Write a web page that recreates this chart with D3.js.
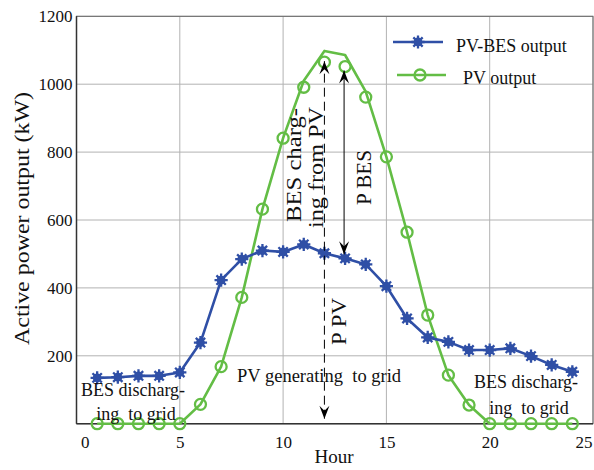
<!DOCTYPE html>
<html>
<head>
<meta charset="utf-8">
<script src="https://cdn.jsdelivr.net/npm/d3@7"></script>
<style>
  body { margin: 0; background: #fff; }
  text { font-family: "Liberation Serif", "DejaVu Serif", serif; fill: #111; }
</style>
</head>
<body>
<div id="chart"></div>
<script>
// hours of the day
var hours = [1,2,3,4,5,6,7,8,9,10,11,12,13,14,15,16,17,18,19,20,21,22,23,24];
// PV-BES output (kW)
var pvBes = [135,137,141,141,151,239,423,485,510,506,528,502,487,469,405,310,254,241,217,217,222,199,173,153];
// PV output at the markers (kW)
var pvMarks = [0,0,0,0,0,57,168,372,632,841,991,1065,1052,962,786,564,320,143,55,0,0,0,0,0];
// PV output line (kW), drawn a bit higher than the markers around noon
var pvLine = [0,0,0,0,0,57,168,372,632,841,1010,1098,1086,978,786,564,320,143,55,0,0,0,0,0];

var xTicks = [0,5,10,15,20,25];
var yTicks = [200,400,600,800,1000,1200];

var BLUE = "#2f4fa6";
var GREEN = "#63bd45";

var width = 594, height = 470;

var svg = d3.select("#chart").append("svg")
	.attr("width", width)
	.attr("height", height);

var x = d3.scaleLinear().domain([0, 25]).range([76.5, 593]);
var y = d3.scaleLinear().domain([0, 1200]).range([423.7, 16.3]);

// arrow heads
var defs = svg.append("defs");
defs.append("marker")
	.attr("id", "head")
	.attr("viewBox", "-14 -6 16 12")
	.attr("markerUnits", "userSpaceOnUse")
	.attr("markerWidth", 16)
	.attr("markerHeight", 12)
	.attr("refX", 0)
	.attr("refY", 0)
	.attr("orient", "auto-start-reverse")
	.append("path")
	.attr("d", "M0,0 L-13,-5 L-8,0 L-13,5 Z")
	.attr("fill", "#000");

// grid
svg.append("g")
	.selectAll("line.gx")
	.data(xTicks)
	.enter().append("line")
	.attr("x1", function(d) { return x(d); })
	.attr("x2", function(d) { return x(d); })
	.attr("y1", y(0))
	.attr("y2", y(1200))
	.attr("stroke", "#b2b2b2")
	.attr("stroke-width", 1);

svg.append("g")
	.selectAll("line.gy")
	.data(yTicks)
	.enter().append("line")
	.attr("x1", x(0))
	.attr("x2", x(25))
	.attr("y1", function(d) { return y(d); })
	.attr("y2", function(d) { return y(d); })
	.attr("stroke", "#b2b2b2")
	.attr("stroke-width", 1);

// box
svg.append("rect")
	.attr("x", x(0))
	.attr("y", y(1200))
	.attr("width", x(25) - x(0))
	.attr("height", y(0) - y(1200))
	.attr("fill", "none")
	.attr("stroke", "#666")
	.attr("stroke-width", 1);
svg.append("line")
	.attr("x1", x(0)).attr("x2", x(0))
	.attr("y1", y(0)).attr("y2", y(1200))
	.attr("stroke", "#333").attr("stroke-width", 1.5);
svg.append("line")
	.attr("x1", x(0)).attr("x2", x(25))
	.attr("y1", y(0)).attr("y2", y(0))
	.attr("stroke", "#333").attr("stroke-width", 1.5);

// axes labels via d3 axes
var xAxis = svg.append("g")
	.attr("transform", "translate(0," + y(0) + ")")
	.call(d3.axisBottom(x).tickValues(xTicks).tickSize(0).tickPadding(12).tickFormat(d3.format("d")));
xAxis.select(".domain").remove();
xAxis.selectAll("text")
	.attr("font-size", 17)
	.attr("font-family", "Liberation Serif, serif")
	.attr("fill", "#111");
// end labels are kept inside the plot width, like the original
xAxis.selectAll("text")
	.filter(function(d) { return d == 0; })
	.attr("text-anchor", "start")
	.attr("dx", 4);
xAxis.selectAll("text")
	.filter(function(d) { return d == 25; })
	.attr("text-anchor", "end")
	.attr("dx", -1);

var yAxis = svg.append("g")
	.attr("transform", "translate(" + x(0) + ",0)")
	.call(d3.axisLeft(y).tickValues(yTicks).tickSize(0).tickPadding(4).tickFormat(d3.format("d")));
yAxis.select(".domain").remove();
yAxis.selectAll("text")
	.attr("font-size", 17)
	.attr("font-family", "Liberation Serif, serif")
	.attr("fill", "#111");

svg.append("text")
	.attr("x", 334)
	.attr("y", 463)
	.attr("text-anchor", "middle")
	.attr("font-size", 19)
	.text("Hour");

svg.append("text")
	.attr("transform", "translate(29,218.5) rotate(-90)")
	.attr("text-anchor", "middle")
	.attr("font-size", 20)
	.attr("textLength", 253)
	.attr("lengthAdjust", "spacingAndGlyphs")
	.text("Active power output (kW)");

// lines
var seriesLine = d3.line()
	.x(function(d, i) { return x(hours[i]); })
	.y(function(d) { return y(d); });

svg.append("path")
	.datum(pvLine)
	.attr("d", seriesLine)
	.attr("fill", "none")
	.attr("stroke", GREEN)
	.attr("stroke-width", 2.6)
	.attr("stroke-linejoin", "round");

svg.append("path")
	.datum(pvBes)
	.attr("d", seriesLine)
	.attr("fill", "none")
	.attr("stroke", BLUE)
	.attr("stroke-width", 2.6)
	.attr("stroke-linejoin", "round");

// star marker for PV-BES
function drawStar(g, cx, cy) {
	g.append("circle")
		.attr("cx", cx).attr("cy", cy).attr("r", 4.4)
		.attr("fill", BLUE);
	var spokes = "";
	for (var k = 0; k < 8; k++) {
		var a = k * Math.PI / 4;
		spokes += "M" + cx + "," + cy + "L" + (cx + 6.6 * Math.cos(a)) + "," + (cy + 6.6 * Math.sin(a));
	}
	g.append("path")
		.attr("d", spokes)
		.attr("stroke", BLUE)
		.attr("stroke-width", 2.3);
}

var starG = svg.append("g");
pvBes.forEach(function(d, i) {
	drawStar(starG, x(hours[i]), y(d));
});

svg.append("g")
	.selectAll("circle")
	.data(pvMarks)
	.enter().append("circle")
	.attr("cx", function(d, i) { return x(hours[i]); })
	.attr("cy", function(d) { return y(d); })
	.attr("r", 5.5)
	.attr("fill", "none")
	.attr("stroke", GREEN)
	.attr("stroke-width", 2.3);

// P PV dashed arrow at hour 12
svg.append("line")
	.attr("x1", x(12)).attr("x2", x(12))
	.attr("y1", y(0) - 5).attr("y2", y(pvMarks[11]) - 1)
	.attr("stroke", "#000")
	.attr("stroke-width", 1)
	.attr("stroke-dasharray", "9,5")
	.attr("marker-start", "url(#head)")
	.attr("marker-end", "url(#head)");

// P BES arrow at hour 13
svg.append("line")
	.attr("x1", x(13) - 1).attr("x2", x(13) - 1)
	.attr("y1", y(pvBes[12]) - 4).attr("y2", y(pvMarks[12]) + 4)
	.attr("stroke", "#000")
	.attr("stroke-width", 1)
	.attr("marker-start", "url(#head)")
	.attr("marker-end", "url(#head)");

// annotations
function vText(tx, ty, len, str) {
	svg.append("text")
		.attr("transform", "translate(" + tx + "," + ty + ") rotate(-90)")
		.attr("font-size", 20)
		.attr("textLength", len)
		.attr("lengthAdjust", "spacingAndGlyphs")
		.text(str);
}
vText(301, 222, 114, "BES charg-");
vText(323, 228, 121, "ing from PV");
vText(371, 205, 55, "P BES");
vText(346, 345, 47, "P PV");

svg.append("text")
	.attr("x", 237).attr("y", 382)
	.attr("font-size", 18.5)
	.style("white-space", "pre")
	.text("PV generating  to grid");

function hText(cx, by, str) {
	svg.append("text")
		.attr("x", cx).attr("y", by)
		.attr("text-anchor", "middle")
		.attr("font-size", 18)
		.style("white-space", "pre")
		.text(str);
}
hText(133, 396, "BES discharg-");
hText(136, 420, "ing  to grid");
hText(526, 388, "BES discharg-");
hText(529, 414, "ing  to grid");

// legend
var leg = svg.append("g");
leg.append("line")
	.attr("x1", 393).attr("x2", 443).attr("y1", 42).attr("y2", 42)
	.attr("stroke", BLUE).attr("stroke-width", 2.6);
drawStar(leg, 418, 42);
leg.append("text")
	.attr("x", 456).attr("y", 52)
	.attr("font-size", 18)
	.text("PV-BES output");

leg.append("line")
	.attr("x1", 397).attr("x2", 446).attr("y1", 75).attr("y2", 75)
	.attr("stroke", GREEN).attr("stroke-width", 2.6);
leg.append("circle")
	.attr("cx", 420).attr("cy", 75).attr("r", 5.5)
	.attr("fill", "none").attr("stroke", GREEN).attr("stroke-width", 2.3);
leg.append("text")
	.attr("x", 463).attr("y", 84)
	.attr("font-size", 18)
	.text("PV output");
</script>
</body>
</html>
